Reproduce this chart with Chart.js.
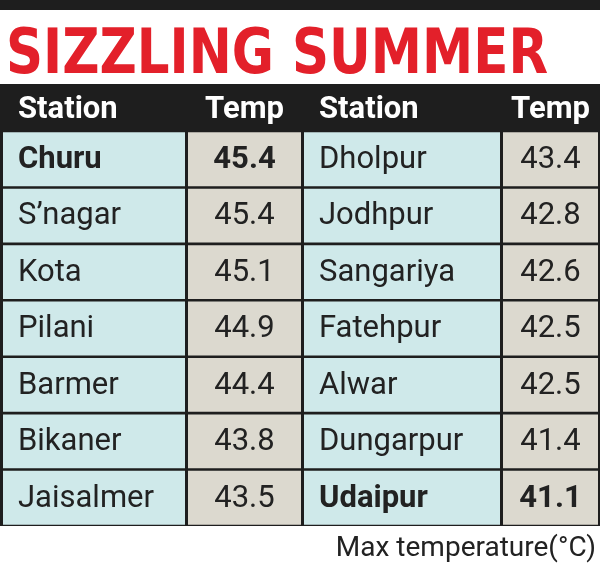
<!DOCTYPE html><html><head><script src="https://cdn.jsdelivr.net/npm/chart.js@4"></script>
<style>html,body{margin:0;background:#fff}#w{width:600px;height:568px}</style></head><body><div id="w"><canvas id="c"></canvas></div>
<script>
const title = "SIZZLING SUMMER";
const headers = ["Station","Temp","Station","Temp"];
const stations1 = ["Churu","S’nagar","Kota","Pilani","Barmer","Bikaner","Jaisalmer"];
const temps1 = [45.4,45.4,45.1,44.9,44.4,43.8,43.5];
const stations2 = ["Dholpur","Jodhpur","Sangariya","Fatehpur","Alwar","Dungarpur","Udaipur"];
const temps2 = [43.4,42.8,42.6,42.5,42.5,41.4,41.1];
const boldRows1 = [0], boldRows2 = [6];
const footer = "Max temperature(°C)";

const rows = stations1.map((_,i)=>"r"+i);
const cols = [[3,185],[188,301],[304,500],[503,598]];
const colText = [stations1,temps1.map(v=>v.toFixed(1)),stations2,temps2.map(v=>v.toFixed(1))];
const colColor = ["#cfe9ea","#dcd9cf","#cfe9ea","#dcd9cf"];
const datasets = cols.map((c,k)=>({
  data: rows.map(()=>c), backgroundColor: colColor[k],
  grouped:false, barPercentage:0.955, categoryPercentage:1, borderWidth:0
}));
const plug = {id:"tbl",
  beforeDraw(ch){const x=ch.ctx,a=ch.chartArea;x.save();x.fillStyle="#1e1e1e";x.fillRect(0,0,600,10);
    x.fillRect(0,84,600,a.bottom-84);
    x.font="900 62px 'DejaVu Sans'";x.fillStyle="#e3202a";x.textBaseline="alphabetic";
    const w=x.measureText(title).width;x.translate(6,73);x.scale(542/w,1);x.fillText(title,0,0);x.restore();},
  afterDatasetsDraw(ch){const x=ch.ctx,sx=ch.scales.x;x.save();x.textBaseline="middle";
    x.fillStyle="#fff";x.font="bold 31px Roboto";
    headers.forEach((h,k)=>{const l=sx.getPixelForValue(cols[k][0]),r=sx.getPixelForValue(cols[k][1]);
      if(k%2===0){x.textAlign="left";x.fillText(h,l+15,110);}else{x.textAlign="center";x.fillText(h,(l+r)/2,110);}});
    ch.data.datasets.forEach((d,k)=>{ch.getDatasetMeta(k).data.forEach((b,i)=>{
      const t=colText[k][i];const bold=(k<2&&boldRows1.includes(i))||(k>=2&&boldRows2.includes(i));
      x.fillStyle="#222";x.font=(bold?"bold ":"")+"31px Roboto";
      const left=Math.min(b.base,b.x),right=Math.max(b.base,b.x);
      if(k%2===0){x.textAlign="left";x.fillText(t,left+15,b.y+1);}else{x.textAlign="center";x.fillText(t,(left+right)/2,b.y+1);}
    });});
    x.textAlign="right";x.fillStyle="#222";x.font="28px Roboto";x.fillText(footer,596,549);x.restore();}};
new Chart(document.getElementById("c"),{type:"bar",data:{labels:rows,datasets},
  options:{indexAxis:"y",responsive:true,maintainAspectRatio:false,animation:false,
    layout:{padding:{top:131,bottom:42,left:0,right:0}},
    plugins:{legend:{display:false},tooltip:{enabled:false}},
    scales:{x:{type:"linear",min:0,max:600,display:false},y:{display:false}}},plugins:[plug]});
</script></body></html>
